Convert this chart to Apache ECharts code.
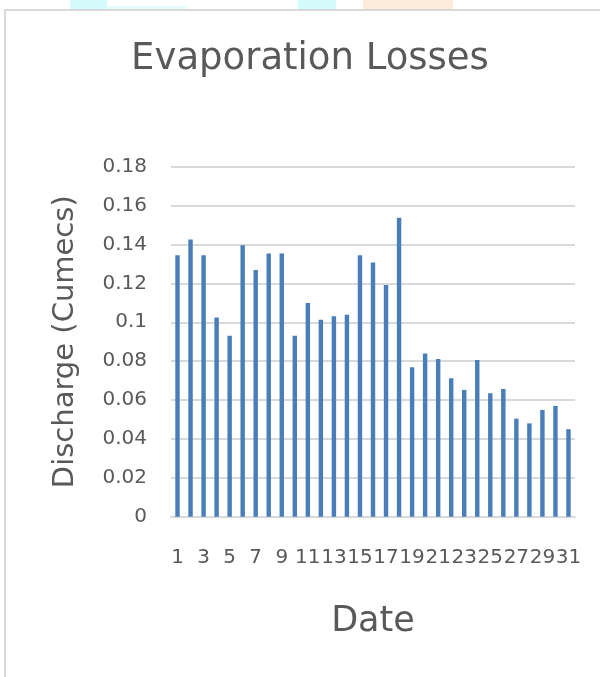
<!DOCTYPE html>
<html>
<head>
<meta charset="utf-8">
<script src="https://cdn.jsdelivr.net/npm/echarts@6/dist/echarts.min.js"></script>
<style>
  html, body { margin: 0; padding: 0; background: #fff; }
  #chart { width: 600px; height: 677px; }
</style>
</head>
<body>
<div id="chart"></div>
<script>
// Daily evaporation losses for one month
const dates = Array.from({ length: 31 }, (_, i) => String(i + 1));
const discharge = [
  0.1345, 0.1425, 0.1345, 0.1024, 0.0930, 0.1396, 0.1269, 0.1353,
  0.1353, 0.0930, 0.1099, 0.1013, 0.1031, 0.1038, 0.1345, 0.1307,
  0.1192, 0.1537, 0.0769, 0.0839, 0.0811, 0.0712, 0.0652, 0.0806,
  0.0635, 0.0657, 0.0504, 0.0480, 0.0549, 0.0570, 0.0450
];
const yTicks = { min: 0, max: 0.18, step: 0.02 };

const FONT = 'DejaVu Sans';
const TEXT = '#595959';

const chart = echarts.init(document.getElementById('chart'));
chart.setOption({
  animation: false,
  backgroundColor: '#fff',
  graphic: [
    // faint coloured shapes peeking above the frame
    { type: 'rect', shape: { x: 70, y: 0, width: 37, height: 10 }, style: { fill: '#d4fbfc' } },
    { type: 'rect', shape: { x: 107, y: 6, width: 80, height: 4 }, style: { fill: '#e6fdfd' } },
    { type: 'rect', shape: { x: 298, y: 0, width: 38, height: 10 }, style: { fill: '#d4fbfc' } },
    { type: 'rect', shape: { x: 363, y: 0, width: 90, height: 10 }, style: { fill: '#fdebdb' } },
    // chart frame
    { type: 'polyline', shape: { points: [[5, 677], [5, 10], [600, 10]] },
      style: { stroke: '#d9d9d9', lineWidth: 2, fill: null } }
  ],
  title: {
    text: 'Evaporation Losses',
    left: 305,
    textAlign: 'center',
    top: 36,
    textStyle: { fontFamily: FONT, fontSize: 37, fontWeight: 'normal', color: TEXT }
  },
  grid: { left: 171, right: 25, top: 166.7, bottom: 160.3 },
  xAxis: {
    type: 'category',
    data: dates,
    name: 'Date',
    nameLocation: 'middle',
    nameGap: 88,
    nameTextStyle: { fontFamily: FONT, fontSize: 35, color: TEXT },
    axisLine: { lineStyle: { color: '#d9d9d9', width: 2 } },
    axisTick: { show: false },
    axisLabel: { interval: 1, margin: 31, fontFamily: FONT, fontSize: 20, color: TEXT }
  },
  yAxis: {
    type: 'value',
    min: yTicks.min,
    max: yTicks.max,
    interval: yTicks.step,
    name: 'Discharge (Cumecs)',
    nameLocation: 'middle',
    nameGap: 91,
    nameTextStyle: { fontFamily: FONT, fontSize: 29, color: TEXT },
    axisLine: { show: false },
    axisTick: { show: false },
    axisLabel: { margin: 24, fontFamily: FONT, fontSize: 20, color: TEXT },
    splitLine: { lineStyle: { color: '#d9d9d9', width: 2 } }
  },
  series: [{
    type: 'bar',
    data: discharge,
    barWidth: '34%',
    itemStyle: { color: '#4a7ebb' }
  }]
});
</script>
</body>
</html>
